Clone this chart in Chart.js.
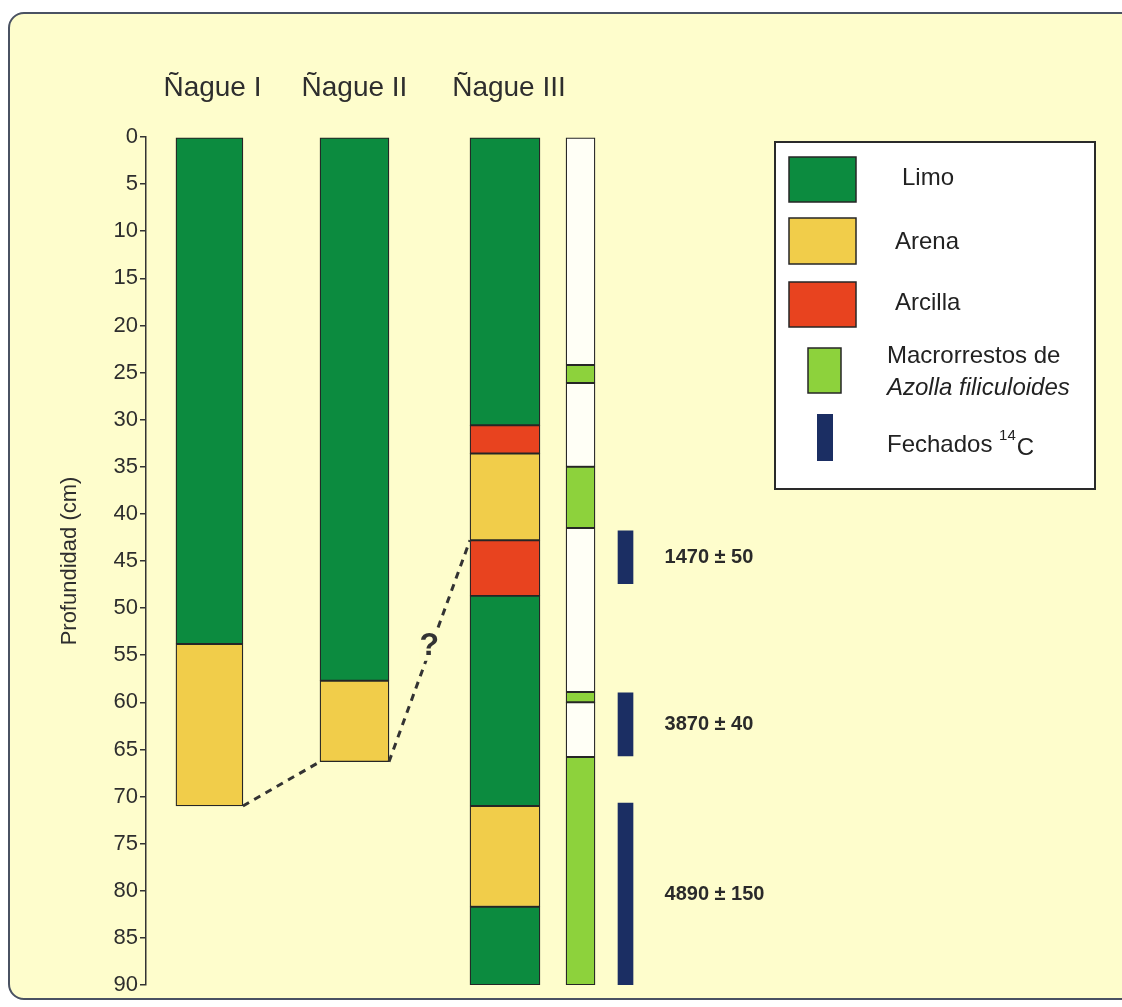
<!DOCTYPE html>
<html>
<head>
<meta charset="utf-8">
<script src="https://cdn.jsdelivr.net/npm/chart.js@4.4.1/dist/chart.umd.min.js"></script>
<style>
  html, body { margin:0; padding:0; background:#ffffff; overflow:hidden; }
  #frame { position:absolute; left:8px; top:12px; width:1140px; height:988px;
           background:#FEFDCC; border:2px solid #4a5262; border-radius:16px; box-sizing:border-box; }
  #wrap { position:absolute; left:0; top:0; width:1122px; height:1007px; }
</style>
</head>
<body>
<div id="frame"></div>
<div id="wrap"><canvas id="c" width="1122" height="1007"></canvas></div>
<script>
// ---------- data ----------
const columnNames = ['Ñague I', 'Ñague II', 'Ñague III'];
const nagueIDepths = [0, 53.8, 71.0];
const nagueILayers = ['Limo', 'Arena'];
const nagueIIDepths = [0, 57.7, 66.3];
const nagueIILayers = ['Limo', 'Arena'];
const nagueIIIDepths = [0, 30.6, 33.6, 42.8, 48.7, 71.0, 81.7, 90];
const nagueIIILayers = ['Limo', 'Arcilla', 'Arena', 'Arcilla', 'Limo', 'Arena', 'Limo'];
const azollaDepths = [0, 24.2, 26.1, 35.0, 41.5, 58.9, 60.0, 65.8, 90];
const azollaLayers = ['Sin', 'Azolla', 'Sin', 'Azolla', 'Sin', 'Azolla', 'Sin', 'Azolla'];
const datingTop = [41.8, 59.0, 70.7];
const datingBottom = [47.4, 65.7, 90];
const datingLabels = ['1470 ± 50', '3870 ± 40', '4890 ± 150'];
const correlationDepths = [[71.0, 66.3], [66.3, 42.8]]; // [from column i bottom, to column i+1]
const questionDepth = 54;
const depthMin = 0, depthMax = 90, depthStep = 5;
const legendLabels = ['Limo', 'Arena', 'Arcilla', 'Macrorrestos de', 'Azolla filiculoides', 'Fechados ', '14', 'C'];
const axisTitle = 'Profundidad (cm)';

// ---------- layout / style ----------
const colX = [6.5, 21.36, 36.78, 44.52, 49.13];      // position on the (hidden) x scale
const colWidth = [67, 69, 70, 29, 15];               // bar thickness in px
const COLORS = { Limo:'#0C8B3F', Arena:'#F1CD4A', Arcilla:'#E8431F', Azolla:'#8DD23C', Sin:'#FFFFF6', Fecha:'#1B2E63' };
const BG = '#FEFDCC';
const FONT = '"Liberation Sans", Arial, sans-serif';
const INK = '#2e2e2e';

function segments(depths, layers, x) {
  return layers.map((t, i) => ({ x: x, y: [depths[i], depths[i + 1]], t: t }));
}
function colDataset(label, depths, layers, idx) {
  const data = segments(depths, layers, colX[idx]);
  return {
    label, data,
    backgroundColor: data.map(d => COLORS[d.t]),
    borderColor: '#262626', borderWidth: 1.3, borderSkipped: false,
    barThickness: colWidth[idx], grouped: false
  };
}

const datasets = [
  colDataset(columnNames[0], nagueIDepths, nagueILayers, 0),
  colDataset(columnNames[1], nagueIIDepths, nagueIILayers, 1),
  colDataset(columnNames[2], nagueIIIDepths, nagueIIILayers, 2),
  colDataset('Azolla', azollaDepths, azollaLayers, 3),
  {
    label: 'Fechados 14C',
    data: datingTop.map((t, i) => ({ x: colX[4], y: [t, datingBottom[i]] })),
    backgroundColor: COLORS.Fecha, borderWidth: 0, borderSkipped: false,
    barThickness: colWidth[4], grouped: false
  }
];

const decor = {
  id: 'decor',
  afterDatasetsDraw(chart) {
    const ctx = chart.ctx;
    const ys = chart.scales.y;
    const metas = [0, 1, 2].map(i => chart.getDatasetMeta(i));
    ctx.save();
    // column titles
    ctx.fillStyle = INK;
    ctx.font = '28px ' + FONT;
    ctx.textAlign = 'center'; ctx.textBaseline = 'middle';
    const titleOffset = [3, 0, 4];
    metas.forEach((m, i) => ctx.fillText(columnNames[i], m.data[0].x + titleOffset[i], 88));

    // correlation dashed lines
    ctx.strokeStyle = '#333';
    ctx.lineWidth = 3;
    ctx.setLineDash([7, 6]);
    correlationDepths.forEach((pair, i) => {
      const a = metas[i].data[0], b = metas[i + 1].data[0];
      ctx.beginPath();
      ctx.moveTo(a.x + a.width / 2, ys.getPixelForValue(pair[0]));
      ctx.lineTo(b.x - b.width / 2, ys.getPixelForValue(pair[1]));
      ctx.stroke();
    });
    ctx.setLineDash([]);
    // question mark sitting on the line (with a gap)
    const q1 = metas[1].data[0], q2 = metas[2].data[0];
    const yq = ys.getPixelForValue(questionDepth);
    const y0 = ys.getPixelForValue(correlationDepths[1][0]), y1 = ys.getPixelForValue(correlationDepths[1][1]);
    const x0 = q1.x + q1.width / 2, x1 = q2.x - q2.width / 2;
    const qx = x0 + (x1 - x0) * (yq - y0) / (y1 - y0) - 2;
    ctx.fillStyle = BG;
    ctx.fillRect(qx - 10, yq - 15, 20, 30);
    ctx.font = 'bold 32px ' + FONT;
    ctx.fillStyle = '#333';
    ctx.textAlign = 'center';
    ctx.fillText('?', qx, yq);

    // dating labels
    const dm = chart.getDatasetMeta(4);
    ctx.font = 'bold 20px ' + FONT;
    ctx.fillStyle = '#2a2a2a';
    ctx.textAlign = 'left';
    dm.data.forEach((bar, i) => {
      const mid = ys.getPixelForValue((datingTop[i] + datingBottom[i]) / 2);
      ctx.fillText(datingLabels[i], bar.x + 39, mid);
    });

    // legend box
    ctx.fillStyle = '#ffffff';
    ctx.fillRect(775, 142, 320, 347);
    ctx.strokeStyle = '#2a2a2a'; ctx.lineWidth = 2;
    ctx.strokeRect(775, 142, 320, 347);
    const sw = (x, y, w, h, c, bw) => {
      ctx.fillStyle = c; ctx.fillRect(x, y, w, h);
      if (bw) { ctx.strokeStyle = '#262626'; ctx.lineWidth = bw; ctx.strokeRect(x, y, w, h); }
    };
    sw(789, 157, 67, 45, COLORS.Limo, 1.5);
    sw(789, 218, 67, 46, COLORS.Arena, 1.5);
    sw(789, 282, 67, 45, COLORS.Arcilla, 1.5);
    sw(808, 348, 33, 45, COLORS.Azolla, 1.5);
    sw(817, 414, 16, 47, COLORS.Fecha, 0);
    ctx.fillStyle = '#222';
    ctx.textBaseline = 'middle';
    ctx.font = '24px ' + FONT;
    ctx.fillText(legendLabels[0], 902, 178);
    ctx.fillText(legendLabels[1], 895, 242);
    ctx.fillText(legendLabels[2], 895, 303);
    ctx.fillText(legendLabels[3], 887, 356);
    ctx.font = 'italic 24px ' + FONT;
    ctx.fillText(legendLabels[4], 887, 388);
    ctx.font = '24px ' + FONT;
    ctx.fillText(legendLabels[5], 887, 445);
    let w = ctx.measureText(legendLabels[5]).width;
    ctx.font = '15px ' + FONT;
    ctx.fillText(legendLabels[6], 887 + w, 436);
    const w2 = ctx.measureText(legendLabels[6]).width;
    ctx.font = '24px ' + FONT;
    ctx.fillText(legendLabels[7], 887 + w + w2 + 1, 448);
    ctx.restore();
  }
};

new Chart(document.getElementById('c'), {
  type: 'bar',
  data: { datasets },
  options: {
    responsive: false,
    animation: false,
    events: [],
    layout: { padding: { left: 50, top: 137, right: 0, bottom: 22 } },
    plugins: { legend: { display: false }, tooltip: { enabled: false } },
    scales: {
      x: { type: 'linear', min: 0, max: 100, display: false, offset: false },
      y: {
        type: 'linear', reverse: true, min: depthMin, max: depthMax,
        afterFit(scale) { scale.width = 96; },
        ticks: { stepSize: depthStep, color: INK, padding: 2, font: { family: FONT, size: 22 } },
        grid: { drawOnChartArea: false, drawTicks: true, tickLength: 6, color: '#333', lineWidth: 1.5 },
        border: { display: true, color: '#333', width: 1.5 },
        title: { display: true, text: axisTitle, color: INK, padding: { top: 7, bottom: 0 },
                 font: { family: FONT, size: 22 } }
      }
    }
  },
  plugins: [decor]
});
</script>
</body>
</html>
